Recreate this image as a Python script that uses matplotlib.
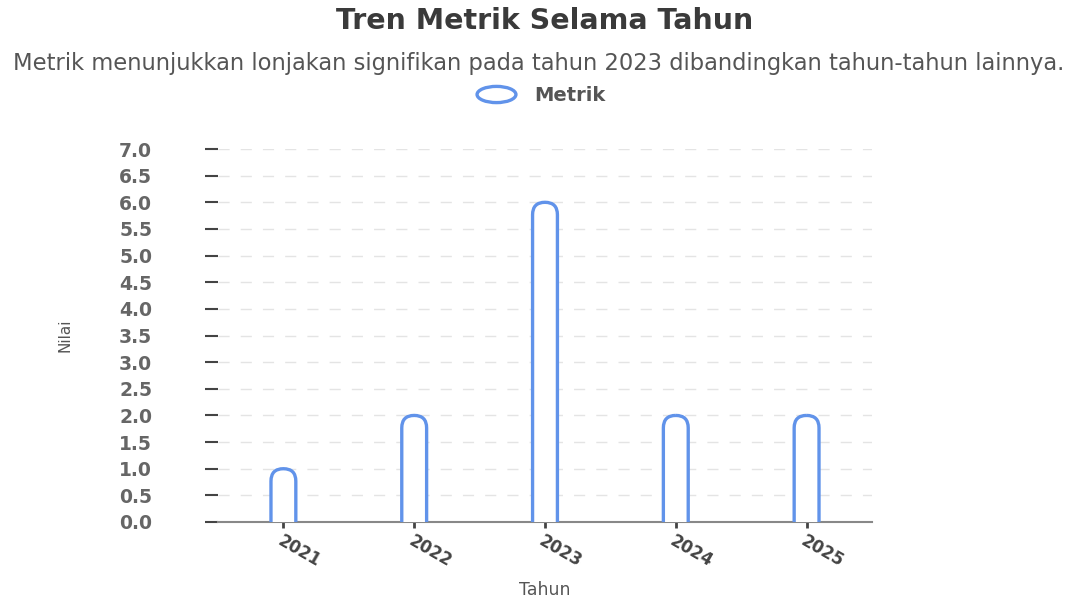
import matplotlib.pyplot as plt
from matplotlib.patches import FancyBboxPatch
from matplotlib.lines import Line2D
from matplotlib.path import Path
import matplotlib.transforms as mtransforms
import numpy as np

# chart data
years = ['2021', '2022', '2023', '2024', '2025']
values = [1, 2, 6, 2, 2]
y_ticks = [0.0, 0.5, 1.0, 1.5, 2.0, 2.5, 3.0, 3.5, 4.0, 4.5, 5.0, 5.5, 6.0, 6.5, 7.0]

blue = '#6193ea'

fig = plt.figure(figsize=(10.76, 5.98), dpi=100)
ax = fig.add_axes([0.2026, 0.1271, 0.6078, 0.6237])

x = np.arange(len(years))
bw = 0.19
bars = ax.bar(x, values, width=bw, color='none', edgecolor='none')

# redraw bars with rounded tops (bottom pushed below 0 and clipped)
px_x = 131.0
px_y = 373.0 / 7
aspect = px_x / px_y
for b in bars:
    x0 = b.get_x()
    h = b.get_height()
    p = FancyBboxPatch((x0, -0.5), b.get_width(), h + 0.5,
                       boxstyle='round,pad=0,rounding_size=0.095',
                       mutation_aspect=aspect,
                       facecolor='white', edgecolor=blue, linewidth=2.4,
                       zorder=3, clip_on=True)
    ax.add_patch(p)

ax.set_xlim(-0.5, len(years) - 0.5)
ax.set_ylim(0, 7)
ax.set_yticks(y_ticks)
ax.set_yticklabels(['%.1f' % v for v in y_ticks], fontsize=13.5, fontweight='bold', color='#666666')
ax.set_xticks(x)
ax.set_xticklabels(years, fontsize=12, fontweight='bold', color='#444444',
                   rotation=-30, ha='left', va='top', rotation_mode='anchor')

ax.tick_params(axis='y', length=9.4, width=1.5, color='#444444', pad=38)
ax.tick_params(axis='x', length=4, width=2, color='#444444', pad=3)

ax.grid(axis='y', linestyle=(0, (8, 8)), color='#e4e4e4', linewidth=1)
ax.set_axisbelow(True)
for s in ['top', 'right', 'left']:
    ax.spines[s].set_visible(False)
ax.spines['bottom'].set_color('#888888')
ax.spines['bottom'].set_linewidth(1.5)

ax.set_ylabel('Nilai', fontsize=11, color='#555555')
ax.yaxis.set_label_coords(-(218 - 65) / 654.0, 0.5)
ax.yaxis.label.set_va('center')
ax.set_xlabel('Tahun', fontsize=12.5, color='#555555')
ax.xaxis.set_label_coords((545 - 218) / 654.0, -(590 - 522) / 373.0)
ax.xaxis.label.set_va('center')

fig.text(0.506, 0.965, 'Tren Metrik Selama Tahun', ha='center', va='center',
         fontsize=20.5, fontweight='bold', color='#3a3a3a')
fig.text(0.501, 0.893, 'Metrik menunjukkan lonjakan signifikan pada tahun 2023 dibandingkan tahun-tahun lainnya.',
         ha='center', va='center', fontsize=16.3, color='#555555')

ellipse = Path.unit_circle().transformed(mtransforms.Affine2D().scale(2.4, 1.0))
handle = Line2D([], [], linestyle='none', marker=ellipse, markersize=28,
                markerfacecolor='white', markeredgecolor=blue, markeredgewidth=2.4)
fig.legend([handle], ['Metrik'], loc='center', bbox_to_anchor=(0.502, 0.841),
           frameon=False, prop={'weight': 'bold', 'size': 14}, labelcolor='#555555',
           handletextpad=0.9, handlelength=2.2)

fig.savefig('out.png', dpi=100)
